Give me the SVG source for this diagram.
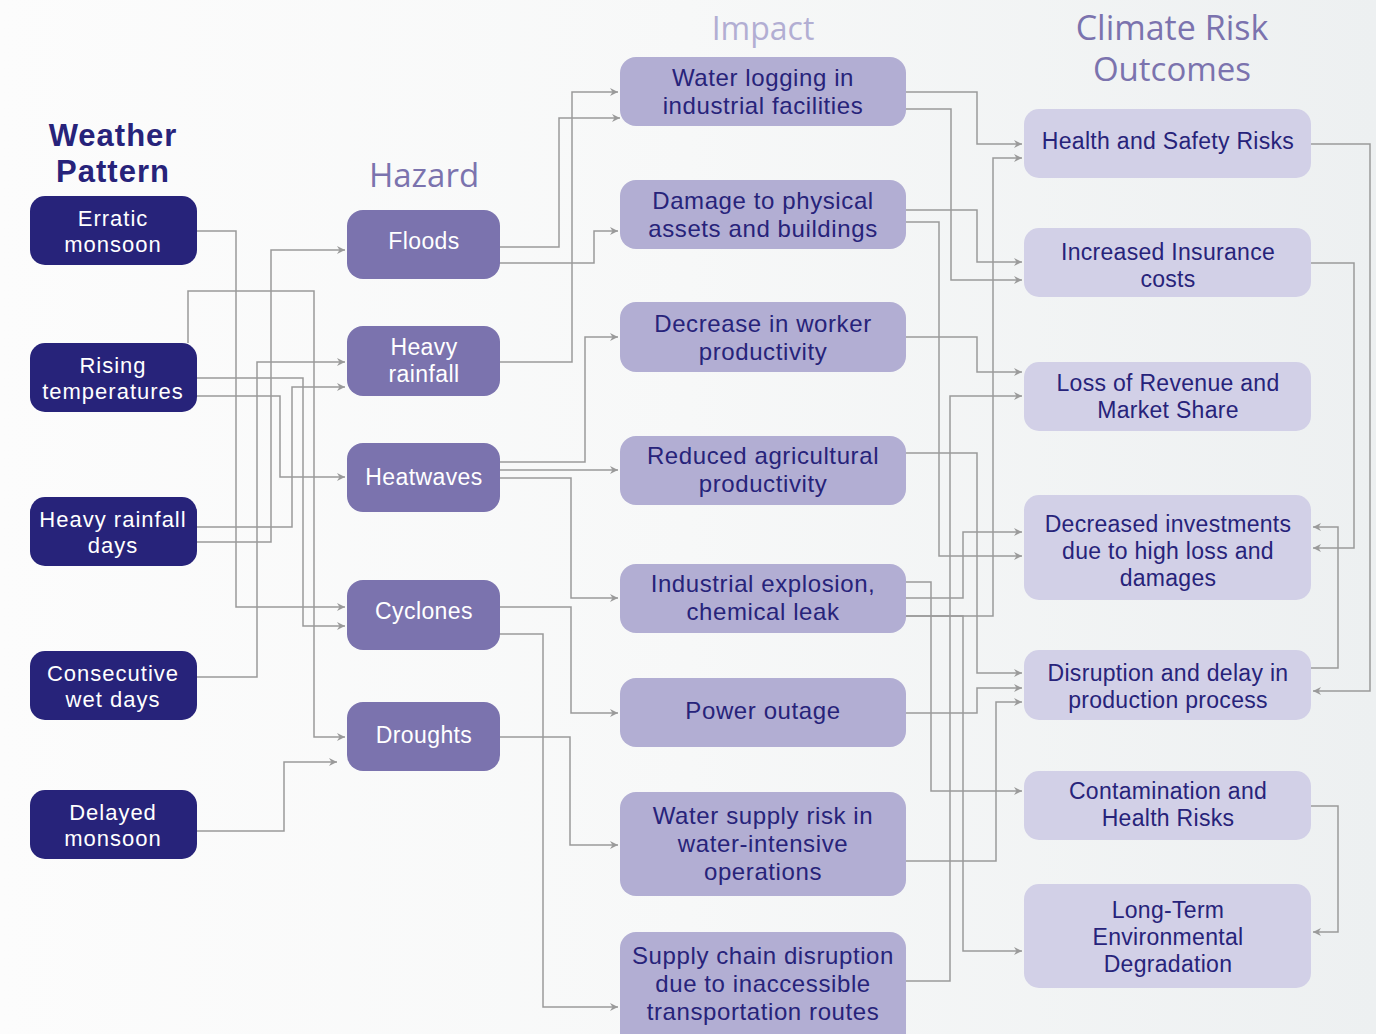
<svg xmlns="http://www.w3.org/2000/svg" width="1376" height="1034" viewBox="0 0 1376 1034">
<defs>
<linearGradient id="bg" x1="0" y1="0" x2="1" y2="0">
<stop offset="0" stop-color="#fcfcfc"/>
<stop offset="0.5" stop-color="#f7f8f8"/>
<stop offset="1" stop-color="#edf0f1"/>
</linearGradient>
<marker id="ah" markerUnits="userSpaceOnUse" markerWidth="10" markerHeight="10" refX="8" refY="4.5" orient="auto">
<path d="M0,0.5 L8,4.5 L0,8.5 L2.5,4.5 z" fill="#9a9a9a"/>
</marker>
<style>
.wp{fill:#27237a}
.hz{fill:#7b73ae}
.im{fill:#b2aed3}
.oc{fill:#d2d0e7}
text{font-family:"Liberation Sans",Arial,sans-serif;text-anchor:middle}
.tw{fill:#ffffff;font-size:22px;letter-spacing:1px}
.th{fill:#ffffff;font-size:23px;letter-spacing:0.4px}
.ti{fill:#27237a;font-size:24px;letter-spacing:0.6px}
.to{fill:#27237a;font-size:23px;letter-spacing:0.3px}
.title{font-family:"Open Sans","Liberation Sans",Arial,sans-serif;font-size:33px;font-weight:500}
#connectors path{fill:none;stroke:#9a9a9a;stroke-width:1.5;marker-end:url(#ah)}
</style>
</defs>
<rect x="0" y="0" width="1376" height="1034" fill="url(#bg)"/>

<g id="titles">
<text x="113" y="146" style="fill:#27237a;font-family:'Liberation Sans',Arial,sans-serif;font-weight:700;font-size:31px;letter-spacing:1px">Weather<tspan x="113" dy="36">Pattern</tspan></text>
<text class="title" x="424" y="187" style="fill:#7b73ae">Hazard</text>
<text class="title" x="763" y="40" style="fill:#b2aed3;font-size:32px">Impact</text>
<text class="title" x="1172" y="40" style="fill:#7b73ae;font-size:34px">Climate Risk<tspan x="1172" dy="41" style="font-size:33px">Outcomes</tspan></text>
</g>

<g id="connectors">
<path d="M197,231 H236 V607 H345"/>
<path d="M188,343 V291 H314 V737 H345"/>
<path d="M197,542 H271 V250 H345"/>
<path d="M197,677 H257 V362 H345"/>
<path d="M197,378 H303 V626 H345"/>
<path d="M197,396 H280 V477 H345"/>
<path d="M197,527 H292 V387 H345"/>
<path d="M197,831 H284 V762 H337"/>
<path d="M500,247 H559 V118 H620"/>
<path d="M500,362 H572 V92 H618"/>
<path d="M488,263 H594 V231 H618"/>
<path d="M490,462 H585 V337 H618"/>
<path d="M490,470 H618"/>
<path d="M500,478 H571 V598 H618"/>
<path d="M500,607 H571 V713 H618"/>
<path d="M500,634 H543 V1007 H618"/>
<path d="M500,737 H570 V845 H618"/>
<path d="M906,92 H977 V144 H1022"/>
<path d="M906,109 H951 V280 H1022"/>
<path d="M906,210 H977 V262 H1022"/>
<path d="M906,222 H939 V556 H1022"/>
<path d="M906,337 H977 V372 H1022"/>
<path d="M906,981 H950 V396 H1022"/>
<path d="M906,616 H993 V158 H1022"/>
<path d="M906,453 H977 V673 H1022"/>
<path d="M906,598 H963 V532 H1022"/>
<path d="M906,582 H931 V791 H1022"/>
<path d="M906,616 H963 V951 H1022"/>
<path d="M906,713 H977 V688 H1022"/>
<path d="M906,861 H996 V702 H1022"/>
<path d="M1311,144 H1370 V691 H1313"/>
<path d="M1311,263 H1354 V548 H1313"/>
<path d="M1311,668 H1338 V527 H1313"/>
<path d="M1311,806 H1338 V932 H1313"/>
</g>

<g id="wp-erratic"><rect class="wp" x="30" y="196" width="167" height="69" rx="15"/><text class="tw" x="113" y="226">Erratic<tspan x="113" dy="26">monsoon</tspan></text></g>
<g id="wp-rising"><rect class="wp" x="30" y="343" width="167" height="69" rx="15"/><text class="tw" x="113" y="373">Rising<tspan x="113" dy="26">temperatures</tspan></text></g>
<g id="wp-heavyrain"><rect class="wp" x="30" y="497" width="167" height="69" rx="15"/><text class="tw" x="113" y="527">Heavy rainfall<tspan x="113" dy="26">days</tspan></text></g>
<g id="wp-consec"><rect class="wp" x="30" y="651" width="167" height="69" rx="15"/><text class="tw" x="113" y="681">Consecutive<tspan x="113" dy="26">wet days</tspan></text></g>
<g id="wp-delayed"><rect class="wp" x="30" y="790" width="167" height="69" rx="15"/><text class="tw" x="113" y="820">Delayed<tspan x="113" dy="26">monsoon</tspan></text></g>

<g id="hz-floods"><rect class="hz" x="347" y="210" width="153" height="69" rx="16"/><text class="th" x="424" y="249">Floods</text></g>
<g id="hz-heavyrain"><rect class="hz" x="347" y="326" width="153" height="70" rx="16"/><text class="th" x="424" y="355">Heavy<tspan x="424" dy="27">rainfall</tspan></text></g>
<g id="hz-heatwaves"><rect class="hz" x="347" y="443" width="153" height="69" rx="16"/><text class="th" x="424" y="485">Heatwaves</text></g>
<g id="hz-cyclones"><rect class="hz" x="347" y="580" width="153" height="70" rx="16"/><text class="th" x="424" y="619">Cyclones</text></g>
<g id="hz-droughts"><rect class="hz" x="347" y="702" width="153" height="69" rx="16"/><text class="th" x="424" y="743">Droughts</text></g>

<g id="im-waterlog"><rect class="im" x="620" y="57" width="286" height="69" rx="16"/><text class="ti" x="763" y="86">Water logging in<tspan x="763" dy="28">industrial facilities</tspan></text></g>
<g id="im-damage"><rect class="im" x="620" y="180" width="286" height="69" rx="16"/><text class="ti" x="763" y="209">Damage to physical<tspan x="763" dy="28">assets and buildings</tspan></text></g>
<g id="im-worker"><rect class="im" x="620" y="302" width="286" height="70" rx="16"/><text class="ti" x="763" y="332">Decrease in worker<tspan x="763" dy="28">productivity</tspan></text></g>
<g id="im-agri"><rect class="im" x="620" y="436" width="286" height="69" rx="16"/><text class="ti" x="763" y="464">Reduced agricultural<tspan x="763" dy="28">productivity</tspan></text></g>
<g id="im-explosion"><rect class="im" x="620" y="564" width="286" height="69" rx="16"/><text class="ti" x="763" y="592">Industrial explosion,<tspan x="763" dy="28">chemical leak</tspan></text></g>
<g id="im-power"><rect class="im" x="620" y="678" width="286" height="69" rx="16"/><text class="ti" x="763" y="719">Power outage</text></g>
<g id="im-watersupply"><rect class="im" x="620" y="792" width="286" height="104" rx="16"/><text class="ti" x="763" y="824">Water supply risk in<tspan x="763" dy="28">water-intensive</tspan><tspan x="763" dy="28">operations</tspan></text></g>
<g id="im-supplychain"><rect class="im" x="620" y="932" width="286" height="120" rx="16"/><text class="ti" x="763" y="964">Supply chain disruption<tspan x="763" dy="28">due to inaccessible</tspan><tspan x="763" dy="28">transportation routes</tspan></text></g>

<g id="oc-health"><rect class="oc" x="1024" y="109" width="287" height="69" rx="15"/><text class="to" x="1168" y="149">Health and Safety Risks</text></g>
<g id="oc-insurance"><rect class="oc" x="1024" y="228" width="287" height="69" rx="15"/><text class="to" x="1168" y="260">Increased Insurance<tspan x="1168" dy="27">costs</tspan></text></g>
<g id="oc-revenue"><rect class="oc" x="1024" y="362" width="287" height="69" rx="15"/><text class="to" x="1168" y="391">Loss of Revenue and<tspan x="1168" dy="27">Market Share</tspan></text></g>
<g id="oc-invest"><rect class="oc" x="1024" y="495" width="287" height="105" rx="15"/><text class="to" x="1168" y="532">Decreased investments<tspan x="1168" dy="27">due to high loss and</tspan><tspan x="1168" dy="27">damages</tspan></text></g>
<g id="oc-disruption"><rect class="oc" x="1024" y="650" width="287" height="70" rx="15"/><text class="to" x="1168" y="681">Disruption and delay in<tspan x="1168" dy="27">production process</tspan></text></g>
<g id="oc-contam"><rect class="oc" x="1024" y="771" width="287" height="69" rx="15"/><text class="to" x="1168" y="799">Contamination and<tspan x="1168" dy="27">Health Risks</tspan></text></g>
<g id="oc-longterm"><rect class="oc" x="1024" y="884" width="287" height="104" rx="15"/><text class="to" x="1168" y="918">Long-Term<tspan x="1168" dy="27">Environmental</tspan><tspan x="1168" dy="27">Degradation</tspan></text></g>
</svg>
